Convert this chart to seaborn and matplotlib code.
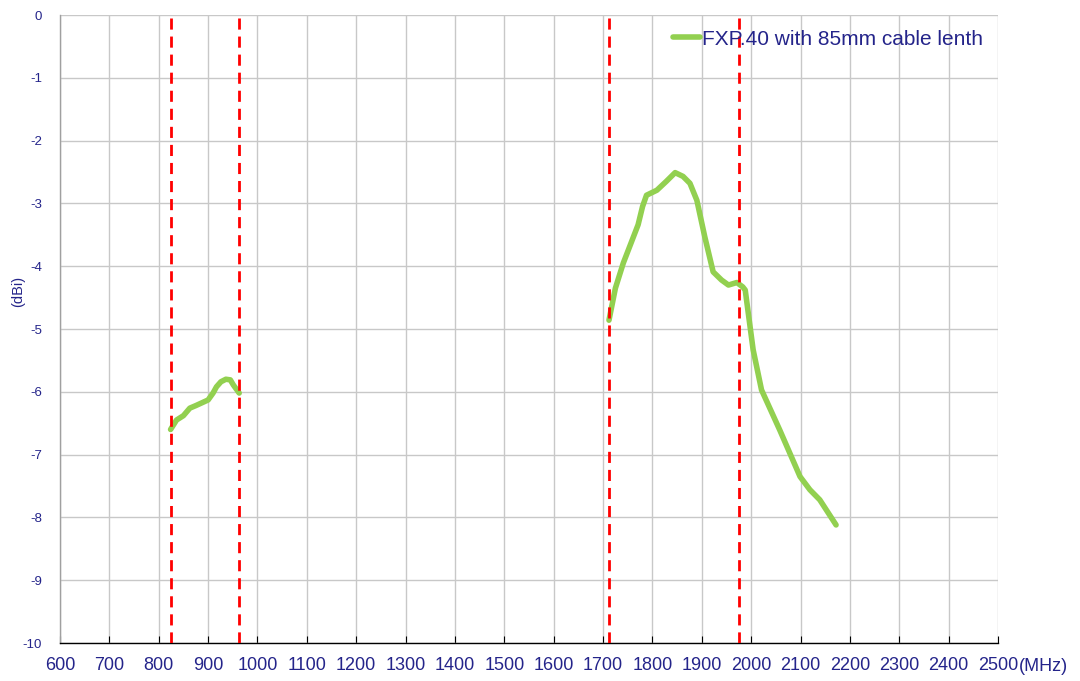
import matplotlib
matplotlib.use("Agg")
import matplotlib.pyplot as plt
import seaborn as sns
import pandas as pd

# Data
band1_freq = [824, 836, 850, 863, 875, 900, 910, 917, 926, 936, 945, 951, 963]
band1_gain = [-6.60, -6.45, -6.38, -6.26, -6.22, -6.13, -6.02, -5.92, -5.84, -5.80, -5.81, -5.89, -6.02]
band2_freq = [1712, 1725, 1741, 1771, 1780, 1788, 1809, 1828, 1846, 1862, 1876, 1890, 1906, 1923,
              1940, 1954, 1971, 1983, 1988, 2004, 2021, 2058, 2099, 2119, 2139, 2172]
band2_gain = [-4.86, -4.35, -3.95, -3.34, -3.05, -2.87, -2.79, -2.65, -2.51, -2.57, -2.68, -2.95,
              -3.53, -4.09, -4.22, -4.30, -4.26, -4.33, -4.38, -5.33, -5.97, -6.61, -7.35, -7.56,
              -7.72, -8.12]
band_edges = [825, 963, 1713, 1975]
x_ticks = list(range(600, 2501, 100))
y_ticks = list(range(0, -11, -1))
series_label = "FXP.40 with 85mm cable lenth"

df = pd.DataFrame({
    "freq": band1_freq + band2_freq,
    "gain": band1_gain + band2_gain,
    "seg": ["b1"] * len(band1_freq) + ["b2"] * len(band2_freq),
})

sns.set_style("white")
plt.rcParams['font.family'] = ['Liberation Sans', 'DejaVu Sans']

navy = "#24248a"
green = "#92D050"

fig = plt.figure(figsize=(10.8, 6.81), dpi=100)
ax = fig.add_axes([60/1080, 1-643/681, (998-60)/1080, (643-15)/681])

for i, (seg, sub) in enumerate(df.groupby("seg")):
    sns.lineplot(data=sub, x="freq", y="gain", ax=ax, color=green, linewidth=4.0,
                 label=series_label if i == 0 else None, sort=False,
                 solid_capstyle="round", solid_joinstyle="round")

for xe in band_edges:
    ax.axvline(xe, color="#FF0000", linewidth=2.0, linestyle=(0, (4, 2.5)), zorder=3)

ax.set_xlim(600, 2500)
ax.set_ylim(-10, 0)
ax.set_xticks(x_ticks)
ax.set_yticks(y_ticks)
ax.set_xticklabels([str(v) for v in x_ticks], fontsize=13, color=navy)
ax.set_yticklabels([str(v) for v in y_ticks], fontsize=9.5, color=navy)
ax.grid(True, color="#C8C8C8", linewidth=1.0)
ax.set_axisbelow(True)

for side in ["top", "right"]:
    ax.spines[side].set_visible(False)
ax.spines["left"].set_color("#A0A0A0")
ax.spines["left"].set_linewidth(1.0)
ax.spines["bottom"].set_color("black")
ax.spines["bottom"].set_linewidth(1.0)

ax.tick_params(axis="x", direction="in", length=5, color="black", pad=10, bottom=True)
ax.tick_params(axis="y", direction="out", length=0, pad=13)

ax.set_xlabel("")
ax.set_ylabel("(dBi)", fontsize=10.5, color=navy)
ax.yaxis.set_label_coords(-0.037, 0.56)
ax.text(1.022, -0.024, "(MHz)", transform=ax.transAxes, fontsize=13, color=navy,
        ha="left", va="top")

leg = ax.legend(loc="upper right", frameon=False, fontsize=15, handlelength=1.3,
                handletextpad=0.1, borderaxespad=0.4, borderpad=0.3)
for t in leg.get_texts():
    t.set_color(navy)

fig.savefig("out.png", dpi=100)
